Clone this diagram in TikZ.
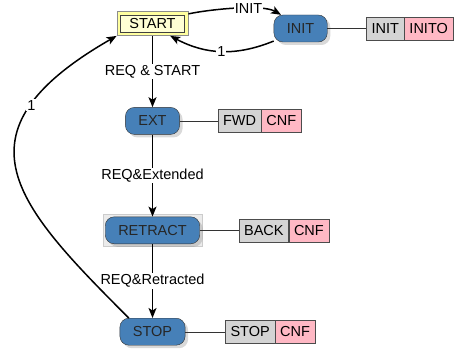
\documentclass[tikz,border=0pt]{standalone}
\usepackage{fontspec}
\setmainfont{Liberation Sans}
\usetikzlibrary{positioning, arrows.meta, shadows, fit, backgrounds}

\definecolor{stblue}{RGB}{70,128,184}
\definecolor{algray}{RGB}{212,212,212}
\definecolor{evpink}{RGB}{255,184,196}
\definecolor{stfill}{RGB}{255,255,212}

\tikzset{
  ecstate/.style={rectangle, rounded corners=9pt, draw=black!80, fill=stblue, text=black!85,
                  minimum height=27pt, inner xsep=13pt,
                  drop shadow={opacity=0.3, shadow xshift=3pt, shadow yshift=-3pt}},
  alg/.style={rectangle, draw=black!70, fill=algray, minimum height=23pt, inner xsep=5pt},
  evt/.style={rectangle, draw=black!70, fill=evpink, minimum height=23pt, inner xsep=5pt},
  lbl/.style={fill=white, inner sep=1pt},
  trans/.style={->, line width=1.5pt}
}

\begin{document}
\begin{tikzpicture}[x=1pt, y=1pt, >={Stealth[length=10pt, width=8pt, inset=2.5pt]},
                    font=\fontsize{14.5}{16}\selectfont]
  \useasboundingbox (0,0) rectangle (454,-353);

  % states
  \node[rectangle, draw=black!75, fill=stfill, minimum width=64pt, minimum height=17pt, inner sep=1pt] (START) at (152.5,-23.5) {START};
  \node[ecstate] (INIT)    [right=89pt of START, yshift=-5pt] {INIT};
  \node[ecstate] (EXT)     [below=75pt of START]   {EXT};
  \node[ecstate] (RETRACT) [below=82pt of EXT]     {RETRACT};
  \node[ecstate] (STOP)    [below=74pt of RETRACT] {STOP};

  % actions
  \node[alg] (INITa)    [right=39pt of INIT]    {INIT};
  \node[evt] (INITe)    [right=0pt of INITa]    {INITO};
  \node[alg] (EXTa)     [right=38pt of EXT]     {FWD};
  \node[evt] (EXTe)     [right=0pt of EXTa]     {CNF};
  \node[alg] (RETRACTa) [right=39pt of RETRACT] {BACK};
  \node[evt] (RETRACTe) [right=0pt of RETRACTa] {CNF};
  \node[alg] (STOPa)    [right=40pt of STOP]    {STOP};
  \node[evt] (STOPe)    [right=0pt of STOPa]    {CNF};

  \begin{scope}[on background layer]
    \node[fit=(START), draw=black!45, fill=stfill!75!yellow, inner sep=3.5pt] (STARTfrm) {};
    \node[fit=(RETRACT), draw=black!20, fill=black!8, inner sep=2pt] (RETRACTfrm) {};
  \end{scope}

  \draw[black!80] (INIT) -- (INITa);
  \draw[black!80] (EXT) -- (EXTa);
  \draw[black!80] (RETRACT) -- (RETRACTa);
  \draw[black!80] (STOP) -- (STOPa);

  % transitions
  \path[trans] (STARTfrm.15) edge [out=12, in=150, looseness=0.6] node[lbl, pos=0.62] {INIT} (INIT.145);
  \path[trans] (INIT.205)    edge [bend left=25] node[lbl] {1}    (STARTfrm.-35);
  \path[trans] (STARTfrm)    edge node[lbl] {REQ \& START}  (EXT);
  \path[trans] (EXT)         edge node[lbl] {REQ\&Extended}  (RETRACT);
  \path[trans] (RETRACT)     edge node[lbl] {REQ\&Retracted} (STOP);
  \draw[trans] (STOP.150) .. controls +(-112,112) and +(-169,-97) .. node[lbl, pos=0.75] {1} (STARTfrm.south west);
\end{tikzpicture}
\end{document}
